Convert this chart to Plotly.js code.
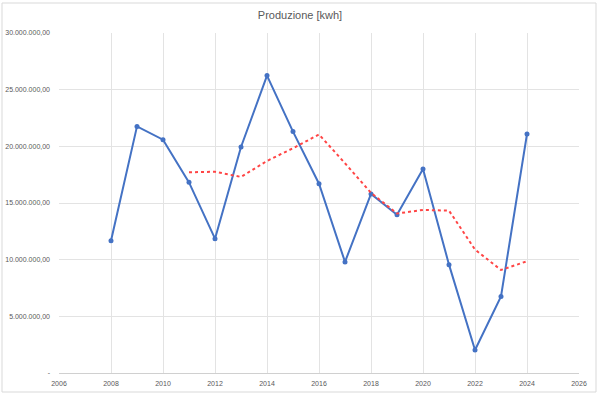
<!DOCTYPE html>
<html>
<head>
<meta charset="utf-8">
<script src="https://cdn.plot.ly/plotly-3.0.1.min.js"></script>
<style>
html,body{margin:0;padding:0;background:#fff;}
#chart{width:600px;height:397px;}
</style>
</head>
<body>
<div id="chart"></div>
<script>
// Years and production values (kWh)
var years = [2008, 2009, 2010, 2011, 2012, 2013, 2014, 2015, 2016, 2017, 2018, 2019, 2020, 2021, 2022, 2023, 2024];
var produzione = [11670000, 21760000, 20590000, 16820000, 11850000, 19940000, 26240000, 21300000, 16700000, 9800000, 15800000, 13970000, 18000000, 9560000, 2030000, 6760000, 21090000];

// Moving-average trend line (red dotted)
var trendYears = [2011, 2012, 2013, 2014, 2015, 2016, 2017, 2018, 2019, 2020, 2021, 2022, 2023, 2024];
var trendValues = [17710000, 17760000, 17300000, 18710000, 19830000, 21050000, 18510000, 15900000, 14070000, 14390000, 14330000, 10890000, 9090000, 9860000];

// Axis ticks
var xTickVals = [2006, 2008, 2010, 2012, 2014, 2016, 2018, 2020, 2022, 2024, 2026];
var yTickVals = [0, 5000000, 10000000, 15000000, 20000000, 25000000, 30000000];
var yTickText = ['-', '5.000.000,00', '10.000.000,00', '15.000.000,00', '20.000.000,00', '25.000.000,00', '30.000.000,00'];

var font = "'Liberation Sans', Arial, sans-serif";

var traces = [
  {
    x: years, y: produzione, type: 'scatter', mode: 'lines+markers',
    line: {color: '#4472C4', width: 2},
    marker: {color: '#4472C4', size: 5},
    hoverinfo: 'x+y', showlegend: false
  },
  {
    x: trendYears, y: trendValues, type: 'scatter', mode: 'lines',
    line: {color: '#FF4545', width: 2, dash: 'dot'},
    hoverinfo: 'x+y', showlegend: false
  }
];

var layout = {
  width: 600, height: 397,
  margin: {l: 59, r: 21, t: 33, b: 24},
  paper_bgcolor: '#fff', plot_bgcolor: '#fff',
  font: {family: font, color: '#595959', size: 7},
  title: {text: 'Produzione [kwh]', font: {family: font, size: 11, color: '#595959'}, x: 0.5, xanchor: 'center', y: 0.962, yanchor: 'middle'},
  xaxis: {
    range: [2006, 2026], tickvals: xTickVals, ticktext: xTickVals.map(String),
    color: '#595959',
    showgrid: true, gridcolor: '#E3E3E3', gridwidth: 1,
    showline: true, linecolor: '#D0D0D0', linewidth: 1,
    zeroline: false, ticks: '', ticklabelstandoff: 4,
    tickfont: {size: 7, color: '#595959'}
  },
  yaxis: {
    range: [0, 30000000], tickvals: yTickVals, ticktext: yTickText,
    color: '#595959',
    showgrid: true, gridcolor: '#E3E3E3', gridwidth: 1,
    showline: false, zeroline: false, ticks: '', ticklabelstandoff: 8,
    tickfont: {size: 7, color: '#595959'}
  },
  shapes: [{
    type: 'rect', xref: 'paper', yref: 'paper',
    x0: -57/520, x1: 1 + 17/520, y0: -19/340, y1: 1 + 30/340,
    line: {color: '#D9D9D9', width: 1}, fillcolor: 'rgba(0,0,0,0)', layer: 'below'
  }]
};

Plotly.newPlot('chart', traces, layout, {displayModeBar: false, staticPlot: true});
</script>
</body>
</html>
